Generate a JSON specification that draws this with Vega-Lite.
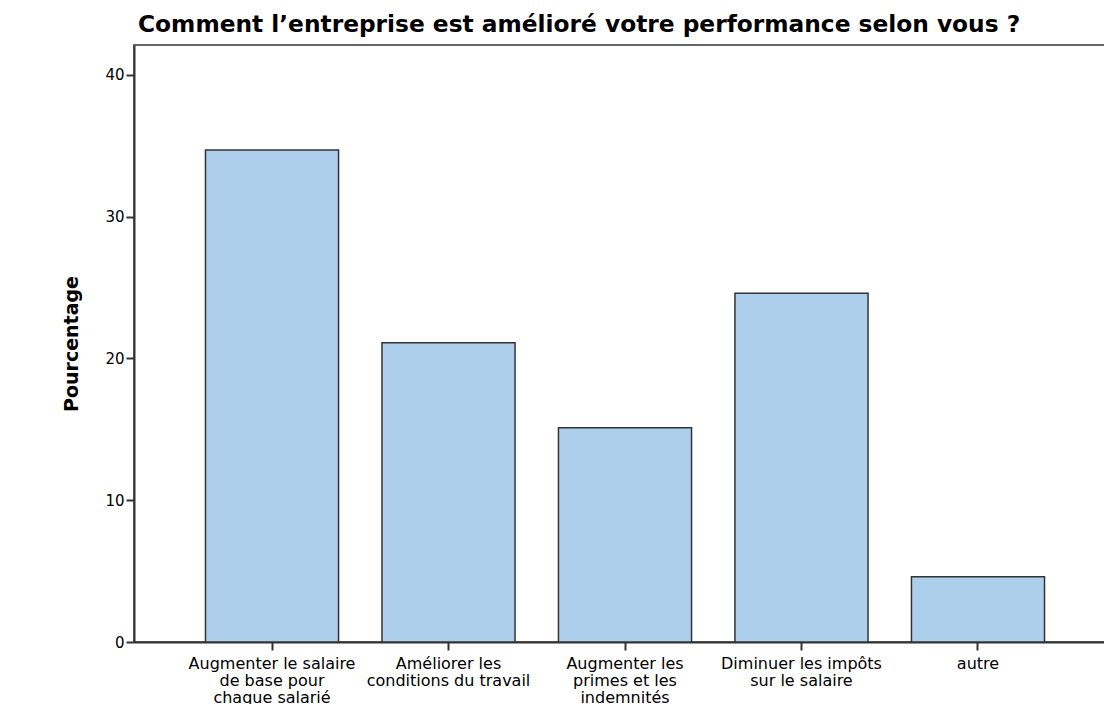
{
  "$schema": "https://vega.github.io/schema/vega-lite/v6.json",
  "autosize": {"type": "none"},
  "width": 982,
  "height": 597,
  "padding": {"left": 134, "top": 45, "right": 0, "bottom": 62},
  "background": "white",
  "title": {
    "text": "Comment l’entreprise est amélioré votre performance selon vous ?",
    "anchor": "start",
    "frame": "group",
    "dx": 4,
    "offset": 8,
    "font": "DejaVu Sans",
    "fontSize": 23.3,
    "fontWeight": "bold",
    "color": "black"
  },
  "config": {
    "view": {"stroke": "#666", "strokeWidth": 2},
    "axis": {"grid": false, "domainColor": "#333", "domainWidth": 2, "tickColor": "#333", "tickWidth": 2, "tickSize": 8, "labelColor": "black"}
  },
  "data": {
    "values": [
      {"cat": "Augmenter le salaire|de base pour|chaque salarié", "pct": 34.7},
      {"cat": "Améliorer les|conditions du travail", "pct": 21.1},
      {"cat": "Augmenter les|primes et les|indemnités", "pct": 15.1},
      {"cat": "Diminuer les impôts|sur le salaire", "pct": 24.6},
      {"cat": "autre", "pct": 4.6}
    ]
  },
  "mark": {"type": "bar", "fill": "#AECFEC", "stroke": "#333", "strokeWidth": 1.5},
  "encoding": {
    "x": {
      "field": "cat",
      "type": "nominal",
      "sort": null,
      "scale": {"paddingInner": 0.246, "paddingOuter": 0.405},
      "axis": {
        "title": null,
        "labelAngle": 0,
        "labelExpr": "split(datum.label, '|')",
        "labelFont": "DejaVu Sans",
        "labelFontSize": 16,
        "labelLineHeight": 17,
        "labelPadding": 5,
        "labelBaseline": "top"
      }
    },
    "y": {
      "field": "pct",
      "type": "quantitative",
      "scale": {"domain": [0, 42.1], "nice": false},
      "axis": {
        "title": "Pourcentage",
        "titleFont": "DejaVu Sans",
        "titleFontSize": 19,
        "titleFontWeight": "bold",
        "titleColor": "black",
        "titlePadding": 23,
        "values": [0, 10, 20, 30, 40],
        "labelFont": "DejaVu Sans",
        "labelFontSize": 15,
        "labelPadding": 2
      }
    }
  }
}
